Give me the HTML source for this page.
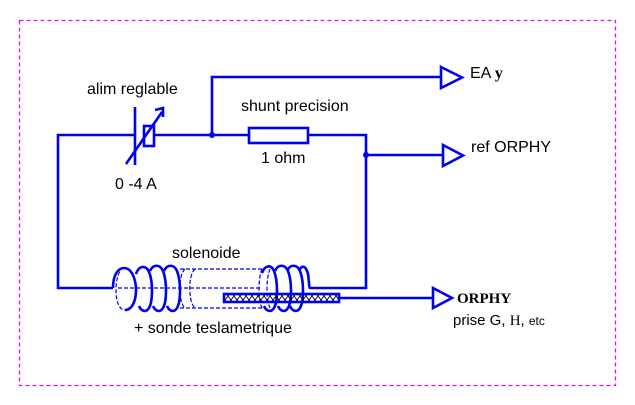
<!DOCTYPE html>
<html><head><meta charset="utf-8"><style>
body{margin:0;background:#fff;width:635px;height:405px;overflow:hidden}
svg{display:block}
text{font-family:"Liberation Sans",sans-serif;font-size:16px;fill:#000}
</style></head><body>
<svg width="635" height="405" viewBox="0 0 635 405">
<defs>
<pattern id="hx" width="6" height="8" patternUnits="userSpaceOnUse">
<path d="M0,0 L6,8 M6,0 L0,8" stroke="#000" stroke-width="0.9"/>
</pattern>
</defs>
<rect x="19.5" y="20.5" width="596" height="365" fill="none" stroke="#e010f0" stroke-width="1.3" stroke-dasharray="4,3"/>
<g stroke="#0000f0" stroke-width="2.6" fill="none">
<polyline points="135,135 58,135 58,288 113,288"/>
<line x1="135" y1="107" x2="135" y2="165"/>
<rect x="144" y="126" width="10" height="20"/>
<line x1="154" y1="135" x2="249" y2="135"/>
<line x1="126" y1="164" x2="162" y2="112"/>
<polyline points="155,110 163,108 163,117"/>
<rect x="249" y="128" width="59" height="15"/>
<polyline points="308,135 366,135 366,288 310,288"/>
<polyline points="212,135 212,77 440,77"/>
<polygon points="441,67 462,77.5 441,88"/>
<line x1="366" y1="155" x2="442" y2="155"/>
<polygon points="443,145 463,155.5 443,166"/>
<line x1="339" y1="298" x2="432" y2="298"/>
<polygon points="433,288 452,298 433,308"/>
<path d="M113,288 C113,275 118,268 124,268"/>
<path d="M124,268 C132,268 136,280 136,290 C136,301 132,310 125,310"/>
<path d="M136,274 C139,265 146,265 149,272 C153,281 153,301 149,308 C146,313 141,311 139,306"/>
<path d="M150,271 C153,264 160,264 163,271 C167,281 167,301 163,308 C160,313 155,311 153,306"/>
<path d="M164,271 C167,264 174,264 177,271 C181,281 181,301 177,308 C174,313 169,311 167,306"/>
<path d="M262,273 C265,265 271,264 274,271 C278,281 278,301 274,308 C271,313 266,311 264,306"/>
<path d="M275,271 C278,264 285,264 288,271 C292,281 292,301 288,308 C285,313 280,311 278,306"/>
<path d="M287,271 C290,264 297,264 300,271 C304,281 304,301 300,308 C297,313 292,311 290,306"/>
<path d="M299,271 C302,264 306,266 308,274 C309,280 309,288 310,288"/>
</g>
<g stroke="#0000f0" stroke-width="1.2" fill="none" stroke-dasharray="4,2">
<path d="M124,268 C119,268 116,280 116,290 C116,301 119,310 125,310"/>
<line x1="118" y1="288" x2="260" y2="288"/>
<line x1="180" y1="269" x2="262" y2="269"/>
<line x1="180" y1="308" x2="262" y2="308"/>
<path d="M185,269 C178,275 178,302 185,308"/>
<path d="M195,269 C188,275 188,302 195,308"/>
<path d="M262,269 C258,278 258,300 262,308"/>
<path d="M270,269 C266,278 266,300 270,308"/>
</g>
<rect x="224" y="294" width="115" height="8" fill="url(#hx)" stroke="#0000f0" stroke-width="2.6"/>
<g fill="#0000f0">
<circle cx="212" cy="135" r="3"/>
<circle cx="366" cy="155" r="3"/>
</g>
<text x="87" y="94">alim reglable</text>
<text x="241" y="111">shunt precision</text>
<text x="261" y="163">1 ohm</text>
<text x="115" y="189">0 -4 A</text>
<text x="172" y="258">solenoide</text>
<text x="134" y="333">+ sonde teslametrique</text>
<text x="470" y="78">EA <tspan style="font-family:'Liberation Serif',serif;font-weight:bold">y</tspan></text>
<text x="471" y="152">ref ORPHY</text>
<text x="457" y="303" style="font-family:'Liberation Serif',serif;font-weight:bold;font-size:15px">ORPHY</text>
<text x="453" y="325" style="font-size:15px">prise G, <tspan style="font-family:'Liberation Serif',serif">H</tspan>, <tspan style="font-size:12px">etc</tspan></text>
</svg>
</body></html>
